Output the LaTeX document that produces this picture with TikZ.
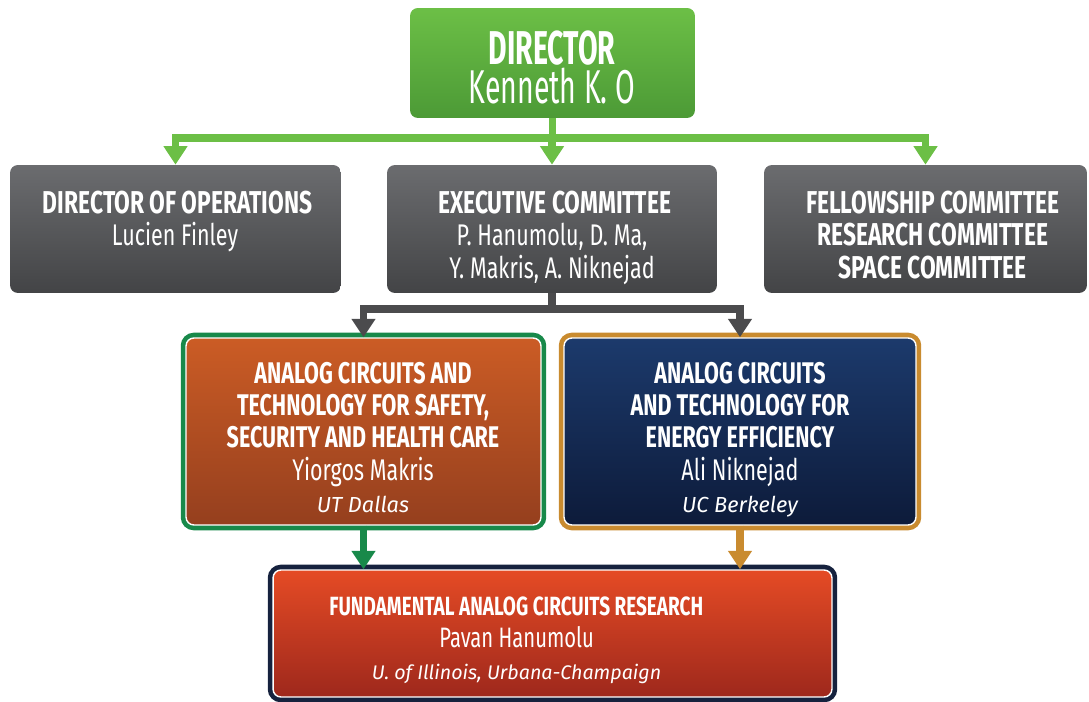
\documentclass[tikz,border=0pt]{standalone}
\usepackage{fontspec}
\setmainfont{Fira Sans}
\newfontfamily\condfont{Fira Sans}[FakeStretch=0.72]
\newfontfamily\dirfont{Fira Sans}[FakeStretch=0.6]
\usetikzlibrary{arrows.meta}

\definecolor{dirgreen}{HTML}{6CBF46}
\definecolor{dirgreendark}{HTML}{4C9A36}
\definecolor{boxgray}{HTML}{6B6C6F}
\definecolor{boxgraydark}{HTML}{434446}
\definecolor{linegray}{HTML}{4B4B4D}
\definecolor{rusttop}{HTML}{CB5C25}
\definecolor{rustbot}{HTML}{953F1E}
\definecolor{navytop}{HTML}{1C3A6C}
\definecolor{navybot}{HTML}{0D1B3A}
\definecolor{redtop}{HTML}{E54B25}
\definecolor{redbot}{HTML}{9E281C}
\definecolor{framegreen}{HTML}{18894A}
\definecolor{framegold}{HTML}{C98B2F}
\definecolor{framenavy}{HTML}{16223E}

% one size per line, same baseline step everywhere
\newcommand{\headtxt}[1][17]{\condfont\bfseries\fontsize{#1}{18.3}\selectfont}
\newcommand{\nametxt}[1][17]{\condfont\mdseries\fontsize{#1}{18.3}\selectfont}
\newcommand{\placetxt}[1][12.4]{\normalfont\itshape\fontsize{#1}{18.3}\selectfont}

\begin{document}
\begin{tikzpicture}[x=0.02cm,y=-0.02cm]
	\tikzset{
		box/.style={rounded corners=4.5pt, minimum height=2.56cm, inner sep=0},
		graybox/.style={box, top color=boxgray, bottom color=boxgraydark},
		framed/.style={box, draw=white, line width=0.8pt, preaction={draw=#1, line width=6pt}},
		txt/.style={text=white, align=center, inner sep=0, anchor=north, font=\headtxt},
		arc/.style={line width=4.5pt, -{Triangle[length=10.5pt,width=13pt]}}
	}
	\useasboundingbox (0,0) rectangle (1089,702);

	\draw node[box, minimum width=5.7cm, minimum height=2.2cm, top color=dirgreen, bottom color=dirgreendark] (dir) at (552.5,63) {};
	\draw node[graybox, minimum width=6.62cm] (ops) at (175.5,229) {};
	\draw node[graybox, minimum width=6.6cm] (exec) at (552,229) {};
	\draw node[graybox, minimum width=6.46cm] (fell) at (925.5,229) {};
	\draw node[framed=framegreen, minimum width=7.1cm, minimum height=3.74cm, top color=rusttop, bottom color=rustbot] (safety) at (363.5,431.5) {};
	\draw node[framed=framegold, minimum width=7.04cm, minimum height=3.74cm, top color=navytop, bottom color=navybot] (energy) at (740,431.5) {};
	\draw node[framed=framenavy, minimum width=11.18cm, minimum height=2.54cm, top color=redtop, bottom color=redbot] (fund) at (552.5,633.5) {};

	\coordinate (split) at (552.5,138);
	\coordinate (fork) at (552,309);
	\foreach \t in {ops,exec,fell}{
		\draw[arc, draw=dirgreen] (dir.south) -- (split) -| (\t.north);
	}
	\foreach \t in {safety,energy}{
		\draw[arc, draw=linegray] (exec.south) -- (fork) -| (\t.north);
	}
	\foreach \f/\c in {safety/framegreen,energy/framegold}{
		\draw[arc, draw=\c] (\f.south) -- (\f.south |- fund.north);
	}

	\draw node[txt, font=\dirfont\fontsize{27}{22.6}\selectfont] (dirtext) at (552,30) {\bfseries DIRECTOR\\ Kenneth K. O};
	\draw node[txt] (opstext) at (175,191) {\headtxt[18] DIRECTOR OF OPERATIONS\\ \nametxt Lucien Finley};
	\draw node[txt] (exectext) at (552,191) {\headtxt[18] EXECUTIVE COMMITTEE\\ \nametxt P. Hanumolu, D. Ma,\\ \nametxt Y. Makris, A. Niknejad};
	\draw node[txt] (felltext) at (930,191) {\headtxt[18] FELLOWSHIP COMMITTEE\\ \headtxt[18] RESEARCH COMMITTEE\\ \headtxt[18] SPACE COMMITTEE};
	\draw node[txt] (safetytext) at (363,362) {ANALOG CIRCUITS AND\\ TECHNOLOGY FOR SAFETY,\\ SECURITY AND HEALTH CARE\\ \nametxt Yiorgos Makris\\ \placetxt UT Dallas};
	\draw node[txt] (energytext) at (740,362) {ANALOG CIRCUITS\\ AND TECHNOLOGY FOR\\ ENERGY EFFICIENCY\\ \nametxt Ali Niknejad\\ \placetxt UC Berkeley};
	\draw node[txt] (fundtext) at (514,596) {\headtxt[15] FUNDAMENTAL ANALOG CIRCUITS RESEARCH\\ \nametxt[16] Pavan Hanumolu\\ \placetxt[11.2] U. of Illinois, Urbana-Champaign};
\end{tikzpicture}
\end{document}
